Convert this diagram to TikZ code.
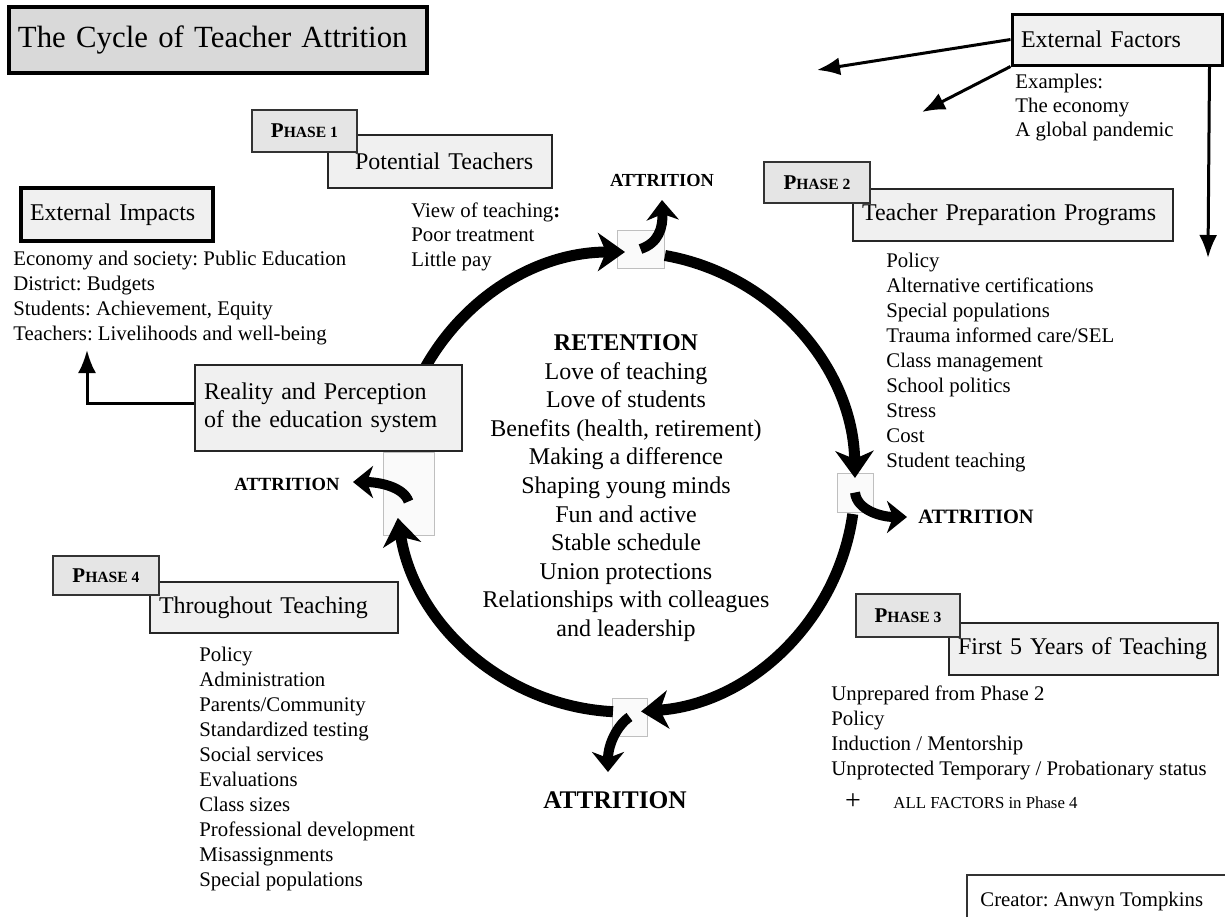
\documentclass[tikz,border=0pt]{standalone}
\usepackage{fontspec}
\setmainfont{Liberation Serif}
\usepackage{tikz}
\usetikzlibrary{arrows.meta,calc}
\frenchspacing

\definecolor{titlegray}{gray}{0.85}
\definecolor{boxgray}{gray}{0.94}
\definecolor{taggray}{gray}{0.9}

\newcommand{\listfont}{\fontsize{10.4}{12.5}\selectfont}
\newcommand{\boxfont}{\fontsize{12}{14}\selectfont}
\newcommand{\phaselabel}[1]{{\fontsize{10.5}{12}\selectfont P}{\fontsize{7.8}{10}\selectfont HASE #1}}

\begin{document}
\begin{tikzpicture}[x=0.5pt,y=-0.5pt,
	framebox/.style={draw=black,line width=1.6pt,fill=boxgray,inner xsep=4.5pt,inner ysep=0pt,align=left,font=\boxfont},
	phasebox/.style={draw=black!85,line width=1pt,fill=boxgray,inner xsep=4.5pt,inner ysep=0pt,align=left,font=\boxfont},
	phasetag/.style={draw=black!80,line width=0.8pt,fill=taggray,inner sep=0pt,font=\bfseries},
	listtext/.style={anchor=north west,inner sep=0pt,align=left,font=\listfont},
	gapbox/.style={draw=gray!50,line width=0.4pt,fill=gray!4,inner sep=0pt},
	loss/.style={inner sep=0pt},
	cyclearrow/.style={line width=5.5pt,-{Stealth[length=13.5pt,width=19pt,inset=4pt]}},
	leakarrow/.style={line width=5pt,-{Stealth[length=10pt,width=16pt,inset=3pt]}},
	extarrow/.style={line width=1.5pt,-{Latex[length=11.5pt,width=9pt]}}]
	\useasboundingbox (0,0) rectangle (1225,917);
	\coordinate (C) at (625,482);

	\node[gapbox,minimum width=23.5pt,minimum height=19pt] (gtop) at (640.5,249) {};
	\node[gapbox,minimum width=18pt,minimum height=19.5pt] (gright) at (855,492.5) {};
	\node[gapbox,minimum width=17.5pt,minimum height=19pt] (gbottom) at (629.5,717) {};
	\node[gapbox,minimum width=25.5pt,minimum height=41.5pt] (gleft) at (408.5,493.5) {};

	\draw[cyclearrow] ($(C)+(188:230)$) arc[start angle=188,end angle=270,radius=230];
	\draw[cyclearrow] ($(C)+(280:230)$) arc[start angle=280,end angle=359,radius=230];
	\draw[cyclearrow] ($(C)+(8:230)$) arc[start angle=8,end angle=86,radius=230];
	\draw[cyclearrow] ($(C)+(93:230)$) arc[start angle=93,end angle=171,radius=230];

	\node[loss,font=\fontsize{9.2}{11}\selectfont\bfseries] (atop) at (662,180) {ATTRITION};
	\node[loss,anchor=west,font=\fontsize{10.2}{12}\selectfont\bfseries] (aright) at (918,517) {ATTRITION};
	\node[loss,font=\fontsize{12.7}{15}\selectfont\bfseries] (abottom) at (615,800) {ATTRITION};
	\node[loss,font=\fontsize{9.3}{11}\selectfont\bfseries] (aleft) at (287,484) {ATTRITION};

	\coordinate (ltop) at (662,200);
	\coordinate (lright) at (907,517);
	\coordinate (lbottom) at (608,772);
	\coordinate (lleft) at (353,482);
	\draw[leakarrow] (gtop.center) .. controls +(18,-6) and +(1,28) .. (ltop);
	\draw[leakarrow] (gright.center) .. controls +(2,18) and +(-25,0) .. (lright);
	\draw[leakarrow] (gbottom.center) .. controls +(-12,8) and +(0,-28) .. (lbottom);
	\draw[leakarrow] ([yshift=-4pt]gleft.center) .. controls +(-5,-15) and +(25,0) .. (lleft);

	\node[align=center,font=\fontsize{12}{14.3}\selectfont] (core) at (626,488)
		{\textbf{RETENTION}\\Love of teaching\\Love of students\\Benefits (health, retirement)\\Making a difference\\Shaping young minds\\Fun and active\\Stable schedule\\Union protections\\Relationships with colleagues\\and leadership};

	\node[framebox,fill=titlegray,line width=1.75pt,text width=200pt,minimum height=33pt,font=\fontsize{15.4}{18}\selectfont] (title) at (218,40) {The Cycle of Teacher Attrition};
	\node[framebox,line width=1.5pt,text width=96pt,minimum height=25.5pt] (extf) at (1117,39.5) {External Factors};
	\node[framebox,line width=1.75pt,text width=87pt,minimum height=26.5pt] (extimp) at (117,214.5) {External Impacts};
	\node[phasebox,line width=0.75pt,text width=124.5pt,minimum height=43pt] (reality) at (328.5,408) {Reality and Perception\\of the education system};

	\node[phasebox,text width=103pt,minimum height=26.5pt] (potential) at (440,161.5) {\hspace*{9pt}Potential Teachers};
	\node[phasetag,minimum width=52.5pt,minimum height=21pt] (tag1) at (304.5,131) {\phaselabel{1}};
	\node[phasebox,text width=151pt,minimum height=26pt] (prepbox) at (1013,215) {Teacher Preparation Programs};
	\node[phasetag,minimum width=53pt,minimum height=20.5pt] (tag2) at (817,182.5) {\phaselabel{2}};
	\node[phasebox,text width=125.5pt,minimum height=26pt] (firstbox) at (1083.5,649) {First 5 Years of Teaching};
	\node[phasetag,minimum width=52pt,minimum height=21.5pt] (tag3) at (908,615.5) {\phaselabel{3}};
	\node[phasebox,text width=115pt,minimum height=25.5pt] (throughbox) at (274,607.5) {Throughout Teaching};
	\node[phasetag,minimum width=53pt,minimum height=19.5pt] (tag4) at (106,575.5) {\phaselabel{4}};

	\node[listtext,font=\fontsize{10.4}{11.8}\selectfont] (examples) at (1015,74) {Examples:\\The economy\\A global pandemic};
	\node[listtext,font=\fontsize{10.4}{12.25}\selectfont] (view) at (411,202) {View of teaching\textbf{:}\\Poor treatment\\Little pay};
	\node[listtext] (impacts) at (13,251) {Economy and society: Public Education\\District: Budgets\\Students: Achievement, Equity\\Teachers: Livelihoods and well-being};
	\node[listtext] (prep) at (886,253) {Policy\\Alternative certifications\\Special populations\\Trauma informed care/SEL\\Class management\\School politics\\Stress\\Cost\\Student teaching};
	\node[listtext] (early) at (831,685) {Unprepared from Phase 2\\Policy\\Induction / Mentorship\\Unprotected Temporary / Probationary status};
	\node[inner sep=0pt,font=\fontsize{14}{16}\selectfont] (plus) at (853,802) {+};
	\node[anchor=west,inner sep=0pt,font=\fontsize{8.4}{10}\selectfont] (allf) at (893,803) {ALL FACTORS in Phase 4};
	\node[listtext] (during) at (199,647) {Policy\\Administration\\Parents/Community\\Standardized testing\\Social services\\Evaluations\\Class sizes\\Professional development\\Misassignments\\Special populations};

	\node[anchor=west,inner sep=0pt,font=\listfont] (creator) at (980,902) {Creator: Anwyn Tompkins};
	\draw[black!80,line width=0.6pt] (967,917) |- (1225,875);

	\coordinate (efa) at (817,70);
	\coordinate (efb) at (922,112);
	\coordinate (efc) at (1208,258);
	\coordinate (imptip) at (87,350);
	\draw[extarrow] (extf.west) -- (efa);
	\draw[extarrow] (extf.south west) -- (efb);
	\draw[extarrow] ([xshift=-7pt]extf.south east) -- (efc);
	\draw[extarrow] ([yshift=2.5pt]reality.west) -| (imptip);
\end{tikzpicture}
\end{document}
